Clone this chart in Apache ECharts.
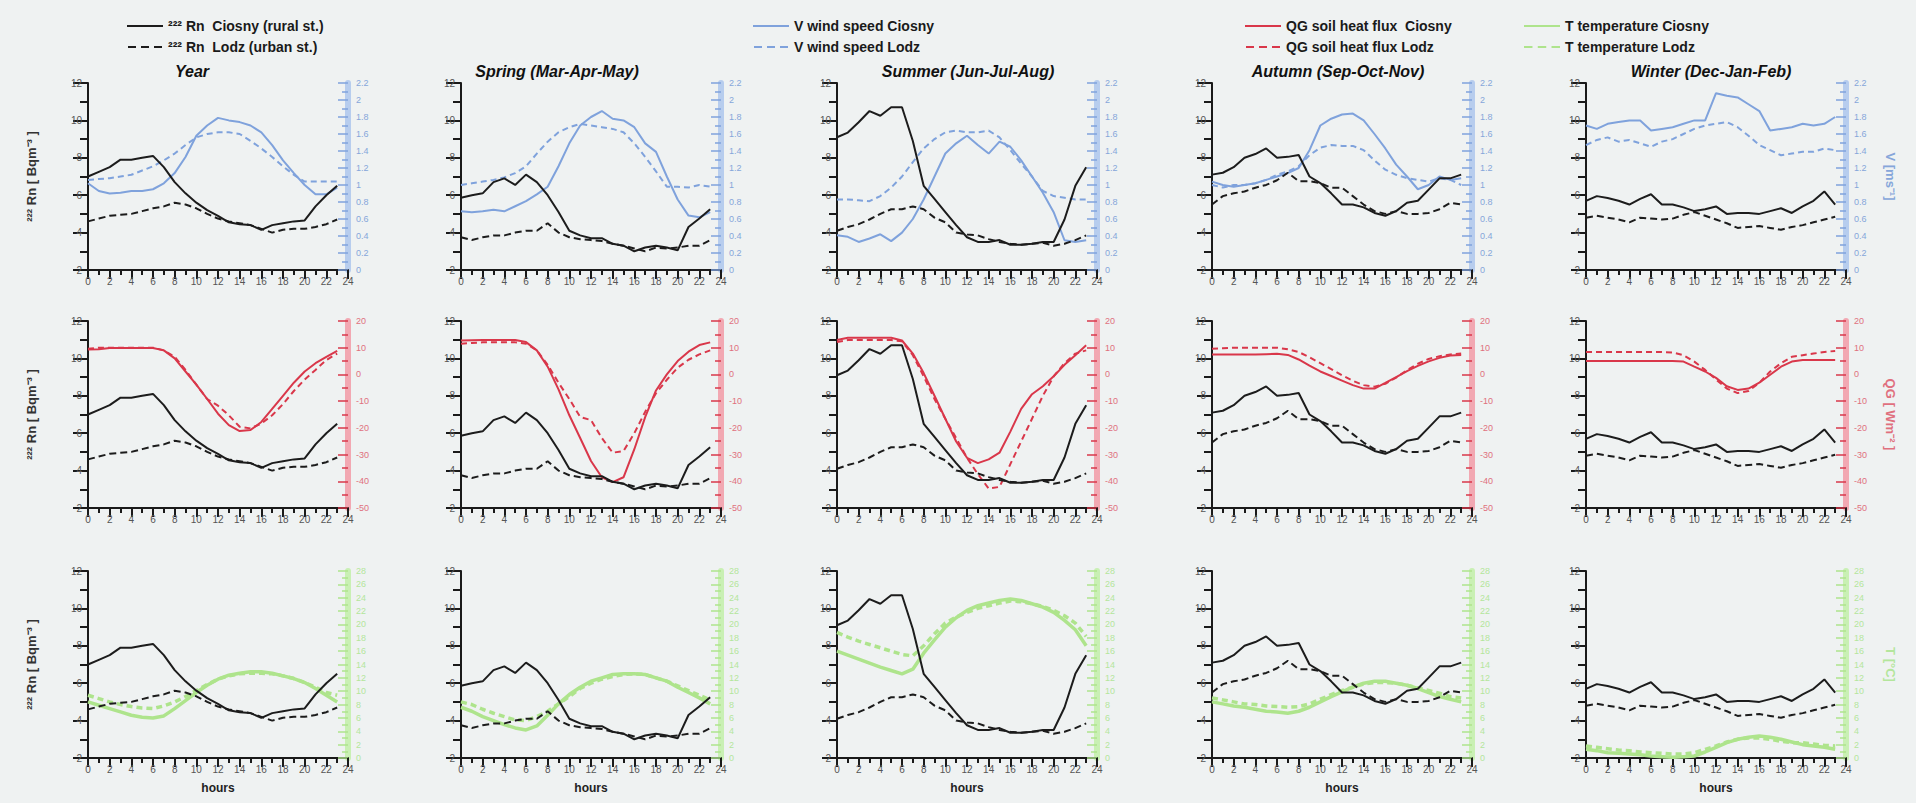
<!DOCTYPE html>
<html>
<head>
<meta charset="utf-8">
<title>222Rn daily cycles - Ciosny / Lodz</title>
<script src="https://cdn.jsdelivr.net/npm/echarts@6/dist/echarts.min.js"></script>
<style>
  html, body { margin: 0; padding: 0; background: #eff2f2; }
  #chart { width: 1916px; height: 803px; }
</style>
</head>
<body>
<div id="chart"></div>
<script>
// hours of the day
const hours = [0,1,2,3,4,5,6,7,8,9,10,11,12,13,14,15,16,17,18,19,20,21,22,23];
const seasons = ['Year', 'Spring (Mar-Apr-May)', 'Summer (Jun-Jul-Aug)', 'Autumn (Sep-Oct-Nov)', 'Winter (Dec-Jan-Feb)'];

// 222Rn [Bq m-3]
const rnCiosnyYear   = [7.0,7.25,7.5,7.9,7.9,8.0,8.1,7.5,6.7,6.1,5.6,5.2,4.9,4.55,4.45,4.4,4.15,4.4,4.5,4.6,4.65,5.4,6.0,6.5];
const rnLodzYear     = [4.6,4.75,4.9,4.95,5.0,5.15,5.3,5.4,5.6,5.5,5.3,5.0,4.75,4.6,4.5,4.4,4.2,4.0,4.15,4.2,4.2,4.3,4.45,4.7];
const rnCiosnySpring = [5.86,6.0,6.1,6.7,6.9,6.55,7.1,6.7,6.0,5.1,4.1,3.85,3.7,3.7,3.4,3.3,3.0,3.2,3.3,3.2,3.05,4.3,4.75,5.25];
const rnLodzSpring   = [3.75,3.6,3.75,3.85,3.85,4.0,4.1,4.1,4.5,4.0,3.75,3.65,3.6,3.55,3.4,3.3,3.15,3.0,3.2,3.15,3.2,3.3,3.3,3.6];
const rnCiosnySummer = [9.1,9.35,9.9,10.5,10.25,10.7,10.7,8.9,6.5,5.8,5.1,4.4,3.75,3.5,3.5,3.6,3.35,3.35,3.4,3.5,3.5,4.7,6.5,7.5];
const rnLodzSummer   = [4.1,4.3,4.45,4.7,5.0,5.25,5.25,5.4,5.25,4.8,4.55,4.0,3.9,3.85,3.65,3.5,3.4,3.35,3.4,3.45,3.3,3.4,3.6,3.85];
const rnCiosnyAutumn = [7.1,7.2,7.5,8.0,8.2,8.5,8.0,8.05,8.15,7.0,6.65,6.1,5.5,5.5,5.35,5.05,4.9,5.15,5.6,5.7,6.3,6.9,6.9,7.1];
const rnLodzAutumn   = [5.5,5.95,6.1,6.2,6.4,6.55,6.8,7.2,6.75,6.75,6.65,6.4,6.4,5.95,5.5,5.15,5.0,5.15,5.0,5.0,5.05,5.25,5.6,5.5];
const rnCiosnyWinter = [5.7,5.95,5.85,5.7,5.5,5.8,6.05,5.5,5.5,5.35,5.15,5.25,5.4,5.0,5.05,5.05,5.0,5.15,5.3,5.05,5.4,5.7,6.2,5.5];
const rnLodzWinter   = [4.8,4.9,4.8,4.7,4.55,4.8,4.75,4.7,4.75,4.95,5.1,4.9,4.7,4.5,4.25,4.3,4.35,4.25,4.15,4.3,4.4,4.55,4.7,4.85];

// V wind speed [m s-1]
const windCiosnyYear   = [1.02,0.93,0.90,0.91,0.93,0.93,0.95,1.02,1.14,1.33,1.58,1.70,1.79,1.76,1.74,1.70,1.62,1.47,1.29,1.14,1.0,0.89,0.89,0.97];
const windLodzYear     = [1.06,1.07,1.08,1.10,1.12,1.17,1.22,1.29,1.37,1.47,1.56,1.60,1.62,1.62,1.60,1.52,1.43,1.33,1.22,1.12,1.04,1.04,1.04,1.04];
const windCiosnySpring = [0.69,0.68,0.69,0.71,0.69,0.75,0.81,0.89,0.98,1.22,1.49,1.70,1.80,1.87,1.78,1.76,1.68,1.49,1.39,1.10,0.83,0.64,0.62,0.68];
const windLodzSpring   = [1.0,1.02,1.04,1.06,1.09,1.14,1.22,1.37,1.51,1.62,1.68,1.72,1.70,1.68,1.66,1.62,1.49,1.33,1.16,0.98,0.98,0.97,1.0,0.98];
const windCiosnySummer = [0.41,0.39,0.33,0.37,0.42,0.34,0.44,0.60,0.83,1.10,1.37,1.49,1.58,1.47,1.37,1.51,1.45,1.29,1.10,0.91,0.68,0.35,0.33,0.35];
const windLodzSummer   = [0.83,0.83,0.82,0.81,0.87,0.97,1.10,1.27,1.43,1.54,1.62,1.64,1.62,1.62,1.64,1.56,1.41,1.25,1.10,0.93,0.87,0.85,0.83,0.83];
const windCiosnyAutumn = [1.04,1.0,0.98,1.0,1.02,1.06,1.10,1.14,1.20,1.41,1.70,1.78,1.83,1.84,1.76,1.60,1.43,1.24,1.10,0.95,1.0,1.10,1.06,1.08];
const windLodzAutumn   = [1.0,0.97,1.0,1.0,1.02,1.06,1.12,1.16,1.22,1.35,1.44,1.47,1.46,1.46,1.41,1.29,1.18,1.12,1.08,1.06,1.04,1.08,1.06,1.0];
const windCiosnyWinter = [1.70,1.66,1.72,1.74,1.76,1.76,1.64,1.66,1.68,1.72,1.76,1.76,2.08,2.05,2.03,1.95,1.87,1.64,1.66,1.68,1.72,1.70,1.72,1.80];
const windLodzWinter   = [1.47,1.53,1.56,1.51,1.53,1.49,1.45,1.51,1.54,1.60,1.66,1.70,1.72,1.74,1.68,1.58,1.47,1.41,1.35,1.37,1.39,1.39,1.43,1.41];

// QG soil heat flux [W m-2]
const qgCiosnyYear   = [9.3,9.4,9.9,9.9,9.9,9.9,9.9,9.0,6.0,1.1,-3.8,-9.2,-14.7,-19.0,-21.2,-20.8,-17.8,-12.9,-8.0,-3.1,1.1,4.2,6.6,8.8];
const qgLodzYear     = [9.6,10.0,10.0,10.0,10.0,10.0,10.0,9.0,6.6,1.7,-3.8,-9.2,-11.7,-15.3,-19.6,-20.2,-18.4,-15.3,-11.1,-6.2,-1.9,1.7,5.4,7.8];
const qgCiosnySpring = [12.7,12.8,12.9,12.9,12.9,12.9,12.1,9.0,2.9,-5.6,-15.3,-23.8,-32.4,-38.5,-40.3,-38.5,-28.0,-16.0,-6.0,0.0,5.0,8.5,11.0,12.0];
const qgLodzSpring   = [11.5,11.8,12.0,12.0,12.0,12.0,11.5,9.0,3.6,-3.1,-9.2,-15.9,-17.1,-23.8,-29.3,-28.7,-22.0,-14.0,-7.0,-2.0,2.5,5.5,7.5,9.0];
const qgCiosnySummer = [12.9,13.7,13.7,13.7,13.7,13.7,12.7,7.8,0.5,-8.0,-16.6,-25.1,-31.2,-33.2,-31.8,-29.3,-21.4,-12.9,-7.4,-4.4,-0.7,3.6,7.2,10.9];
const qgLodzSummer   = [12.1,12.9,12.9,12.9,12.9,12.9,12.4,7.2,-0.7,-9.2,-16.6,-23.8,-31.2,-37.3,-42.7,-42.1,-33.6,-25.1,-16.6,-8.0,-0.7,4.2,7.8,9.0];
const qgCiosnyAutumn = [7.5,7.5,7.5,7.5,7.5,7.6,7.7,7.3,5.6,3.3,1.1,-0.6,-2.3,-4.0,-5.3,-5.3,-3.2,-1.0,1.2,3.2,4.9,6.2,7.1,7.3];
const qgLodzAutumn   = [9.6,9.8,10.0,10.0,10.0,10.0,10.0,9.4,8.4,6.4,4.2,2.0,-0.3,-2.4,-4.0,-4.6,-3.5,-1.2,1.6,4.0,5.8,6.8,7.5,7.8];
const qgCiosnyWinter = [5.0,5.0,5.0,5.0,5.0,5.0,5.0,5.0,5.0,4.8,2.9,1.1,-1.3,-4.4,-5.8,-5.3,-3.1,-0.1,2.9,4.8,5.4,5.4,5.4,5.4];
const qgLodzWinter   = [8.4,8.4,8.4,8.4,8.4,8.4,8.4,8.4,8.2,7.2,4.8,1.7,-1.9,-5.3,-7.0,-6.2,-3.1,1.1,4.2,6.6,7.2,7.8,8.4,8.8];

// T temperature [deg C]
const tempCiosnyYear   = [8.4,7.9,7.4,6.9,6.4,6.1,6.0,6.3,7.4,8.6,9.8,10.9,11.8,12.4,12.7,12.9,12.9,12.7,12.3,11.9,11.3,10.4,9.4,8.4];
const tempLodzYear     = [9.4,8.9,8.4,8.0,7.7,7.5,7.4,7.8,8.4,9.2,10.1,11.0,11.8,12.3,12.6,12.7,12.7,12.6,12.3,11.9,11.3,10.6,9.8,9.4];
const tempCiosnySpring = [7.6,7.0,6.2,5.6,5.0,4.5,4.2,4.8,6.4,8.1,9.5,10.6,11.5,12.0,12.5,12.6,12.6,12.5,12.0,11.5,10.6,9.8,9.0,8.1];
const tempLodzSpring   = [8.4,8.0,7.3,6.7,6.2,5.7,5.6,6.2,7.0,8.1,9.2,10.4,11.2,11.8,12.2,12.5,12.6,12.5,12.0,11.5,10.8,10.1,9.4,8.7];
const tempCiosnySummer = [16.0,15.4,14.8,14.2,13.6,13.1,12.6,13.3,15.7,17.7,19.6,21.0,22.1,22.8,23.2,23.6,23.8,23.6,23.1,22.6,21.8,20.6,19.2,16.8];
const tempLodzSummer   = [18.8,18.1,17.5,17.0,16.5,16.0,15.5,15.3,16.8,18.6,20.2,21.1,21.8,22.4,22.8,23.2,23.5,23.4,23.1,22.7,22.1,21.3,20.2,18.2];
const tempCiosnyAutumn = [8.4,8.1,7.8,7.6,7.3,7.0,6.9,6.7,7.0,7.6,8.4,9.2,9.9,10.6,11.2,11.5,11.5,11.2,10.9,10.4,9.8,9.2,8.8,8.4];
const tempLodzAutumn   = [9.0,8.7,8.4,8.1,8.0,7.8,7.7,7.6,7.7,8.1,8.8,9.5,10.1,10.6,11.1,11.3,11.3,11.2,10.9,10.5,10.1,9.7,9.2,9.0];
const tempCiosnyWinter = [1.3,1.1,0.8,0.7,0.6,0.5,0.3,0.2,0.1,0.2,0.3,0.9,1.6,2.3,2.8,3.1,3.3,3.1,2.8,2.4,2.0,1.8,1.6,1.3];
const tempLodzWinter   = [1.8,1.6,1.4,1.2,1.1,0.9,0.8,0.7,0.6,0.6,0.8,1.3,1.8,2.4,2.8,3.0,3.0,2.8,2.5,2.3,2.3,2.1,1.9,1.8];

const rnCiosny = [rnCiosnyYear, rnCiosnySpring, rnCiosnySummer, rnCiosnyAutumn, rnCiosnyWinter];
const rnLodz = [rnLodzYear, rnLodzSpring, rnLodzSummer, rnLodzAutumn, rnLodzWinter];

const NAME_RN_C = '²²² Rn  Ciosny (rural st.)';
const NAME_RN_L = '²²² Rn  Lodz (urban st.)';

// one entry per row of panels: the second quantity
const rows = [
    {
        ciosny: [windCiosnyYear, windCiosnySpring, windCiosnySummer, windCiosnyAutumn, windCiosnyWinter],
        lodz: [windLodzYear, windLodzSpring, windLodzSummer, windLodzAutumn, windLodzWinter],
        names: ['V wind speed Ciosny', 'V wind speed Lodz'],
        min: 0, max: 2.2, interval: 0.2,
        unit: 'V [ms⁻¹]',
        line: '#7fa2dc', band: '#b7cdee', text: '#86a6da', width: 2,
    },
    {
        ciosny: [qgCiosnyYear, qgCiosnySpring, qgCiosnySummer, qgCiosnyAutumn, qgCiosnyWinter],
        lodz: [qgLodzYear, qgLodzSpring, qgLodzSummer, qgLodzAutumn, qgLodzWinter],
        names: ['QG soil heat flux  Ciosny', 'QG soil heat flux Lodz'],
        min: -50, max: 20, interval: 10,
        unit: 'QG [ Wm⁻² ]',
        line: '#d9374a', band: '#f2a8b2', text: '#e0707e', width: 2,
    },
    {
        ciosny: [tempCiosnyYear, tempCiosnySpring, tempCiosnySummer, tempCiosnyAutumn, tempCiosnyWinter],
        lodz: [tempLodzYear, tempLodzSpring, tempLodzSummer, tempLodzAutumn, tempLodzWinter],
        names: ['T temperature Ciosny', 'T temperature Lodz'],
        min: 0, max: 28, interval: 2,
        unit: 'T [°C]',
        line: '#aee48c', band: '#c9f0b4', text: '#b4e69c', width: 3.5,
    },
];

// layout of the 5 x 3 panels (pixels)
const colLeft = [88, 461, 837, 1212, 1586];
const rowTop = [83, 321, 571];
const PW = 260, PH = 187;

const pairs = arr => arr.map((v, i) => [hours[i], v]);

const grid = [], xAxis = [], yAxis = [], series = [];

rows.forEach((row, r) => {
    seasons.forEach((s, c) => {
        const g = r * 5 + c;
        grid.push({ left: colLeft[c], top: rowTop[r], width: PW, height: PH });

        xAxis.push({
            gridIndex: g, type: 'value', min: 0, max: 24, interval: 2,
            name: r === 2 ? 'hours' : '',
            nameLocation: 'middle', nameGap: 24,
            nameTextStyle: { fontSize: 12, fontWeight: 'bold', color: '#222' },
            axisLine: { onZero: false, lineStyle: { color: '#1a1a1a', width: 2 } },
            axisTick: { length: 9, lineStyle: { color: '#1a1a1a', width: 2 } },
            minorTick: { show: true, splitNumber: 2, length: 5, lineStyle: { color: '#1a1a1a', width: 2 } },
            axisLabel: { fontSize: 10, color: '#555', margin: 6 },
            splitLine: { show: false },
        });

        // left: radon
        yAxis.push({
            gridIndex: g, type: 'value', position: 'left', min: 2, max: 12, interval: 2,
            name: c === 0 ? '²²² Rn [ Bqm⁻³ ]' : '',
            nameLocation: 'middle', nameGap: 50, nameRotate: 90,
            nameTextStyle: { fontSize: 13, fontWeight: 'bold', color: '#333' },
            axisLine: { show: true, lineStyle: { color: '#1a1a1a', width: 2 } },
            axisTick: { length: 15, lineStyle: { color: '#1a1a1a', width: 2 } },
            minorTick: { show: true, splitNumber: 2, length: 8, lineStyle: { color: '#1a1a1a', width: 2 } },
            axisLabel: { fontSize: 10, color: '#555', margin: 6 },
            splitLine: { show: false },
        });

        // right: the row's own quantity
        yAxis.push({
            gridIndex: g, type: 'value', position: 'right',
            min: row.min, max: row.max, interval: row.interval,
            name: c === 4 ? row.unit : '',
            nameLocation: 'middle', nameGap: 38, nameRotate: -90,
            nameTextStyle: { fontSize: 13, fontWeight: 'bold', color: row.text },
            axisLine: { show: true, lineStyle: { color: row.band, width: 6 } },
            axisTick: { inside: true, length: 10, lineStyle: { color: row.line, width: 1.5 } },
            minorTick: { show: true, splitNumber: 2, length: 6, lineStyle: { color: row.line, width: 1.5 } },
            axisLabel: { fontSize: 9, color: row.text, margin: 8 },
            splitLine: { show: false },
        });

        series.push({
            name: row.names[0], type: 'line', xAxisIndex: g, yAxisIndex: 2 * g + 1,
            data: pairs(row.ciosny[c]), symbol: 'none', z: 2,
            lineStyle: { color: row.line, width: row.width },
            itemStyle: { color: row.line },
        });
        series.push({
            name: row.names[1], type: 'line', xAxisIndex: g, yAxisIndex: 2 * g + 1,
            data: pairs(row.lodz[c]), symbol: 'none', z: 2,
            lineStyle: { color: row.line, width: row.width, type: [6, 4] },
            itemStyle: { color: row.line },
        });
        series.push({
            name: NAME_RN_C, type: 'line', xAxisIndex: g, yAxisIndex: 2 * g,
            data: pairs(rnCiosny[c]), symbol: 'none', z: 3,
            lineStyle: { color: '#1c1c1c', width: 2 },
            itemStyle: { color: '#1c1c1c' },
        });
        series.push({
            name: NAME_RN_L, type: 'line', xAxisIndex: g, yAxisIndex: 2 * g,
            data: pairs(rnLodz[c]), symbol: 'none', z: 3,
            lineStyle: { color: '#1c1c1c', width: 2, type: [7, 4] },
            itemStyle: { color: '#1c1c1c' },
        });
    });
});

// legend keys drawn as a plain line (solid) or three dashes (dashed)
const SOLID_ICON = 'path://M0,0h36v2h-36z';
const DASH_ICON = 'path://M0,0h8v2h-8zM13,0h8v2h-8zM26,0h8v2h-8z';
const legendLeft = [122, 748, 1240, 1519];
const legendNames = [
    [NAME_RN_C, NAME_RN_L],
    rows[0].names, rows[1].names, rows[2].names,
];
const legend = legendNames.map((names, i) => ({
    data: [{ name: names[0], icon: SOLID_ICON }, { name: names[1], icon: DASH_ICON }],
    orient: 'vertical', left: legendLeft[i], top: 14,
    itemWidth: 36, itemHeight: i === 3 ? 3 : 2, itemGap: 7, selectedMode: false,
    textStyle: { fontSize: 14, fontWeight: 'bold', color: '#1a1a1a', fontFamily: 'Liberation Sans' },
}));

// season titles above the top row
const titleX = [192, 557, 968, 1338, 1711];
const graphic = seasons.map((s, c) => ({
    type: 'text', x: titleX[c], y: 71,
    style: {
        text: s, fill: '#111', font: 'italic bold 16px "Liberation Sans"',
        align: 'center', verticalAlign: 'middle', textAlign: 'center', textVerticalAlign: 'middle',
    },
}));

const chart = echarts.init(document.getElementById('chart'), null, { renderer: 'svg' });
chart.setOption({
    backgroundColor: '#eff2f2',
    animation: false,
    textStyle: { fontFamily: 'Liberation Sans' },
    legend, grid, xAxis, yAxis, series, graphic,
});
</script>
</body>
</html>
